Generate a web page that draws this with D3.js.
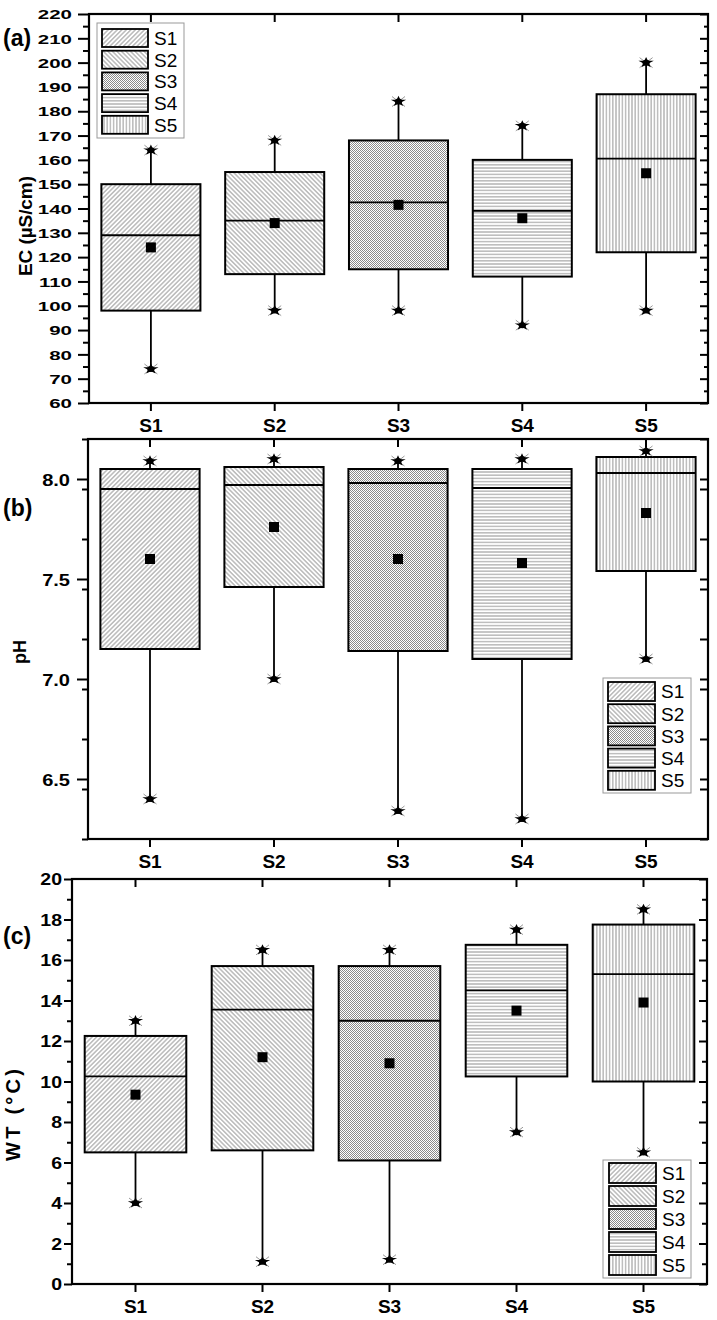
<!DOCTYPE html>
<html><head><meta charset="utf-8">
<script src="https://cdn.jsdelivr.net/npm/d3@7"></script>
<style>body{margin:0;background:#fff} svg{display:block} text{font-family:Arial,"Liberation Sans",sans-serif}</style>
</head><body><svg id="c" width="717" height="1320"></svg>
<script>
const categories = ["S1","S2","S3","S4","S5"];

const ecMax    = [164, 168, 184, 174, 200];
const ecQ3     = [150, 155, 168, 160, 187];
const ecMedian = [129, 135, 142.5, 139, 160.5];
const ecMean   = [124, 134, 141.5, 136, 154.5];
const ecQ1     = [98, 113, 115, 112, 122];
const ecMin    = [74, 98, 98, 92, 98];
const ecTicks  = [60,70,80,90,100,110,120,130,140,150,160,170,180,190,200,210,220];

const phMax    = [8.09, 8.10, 8.09, 8.10, 8.14];
const phQ3     = [8.05, 8.06, 8.05, 8.05, 8.11];
const phMedian = [7.95, 7.97, 7.98, 7.955, 8.03];
const phMean   = [7.60, 7.76, 7.60, 7.58, 7.83];
const phQ1     = [7.15, 7.46, 7.14, 7.10, 7.54];
const phMin    = [6.40, 7.00, 6.34, 6.30, 7.10];
const phTicks  = [6.5, 7.0, 7.5, 8.0];

const wtMax    = [13.0, 16.5, 16.5, 17.5, 18.5];
const wtQ3     = [12.25, 15.7, 15.7, 16.75, 17.75];
const wtMedian = [10.25, 13.55, 13.0, 14.5, 15.3];
const wtMean   = [9.35, 11.2, 10.9, 13.5, 13.9];
const wtQ1     = [6.5, 6.6, 6.1, 10.25, 10.0];
const wtMin    = [4.0, 1.1, 1.2, 7.5, 6.5];
const wtTicks  = [0,2,4,6,8,10,12,14,16,18,20];

const svg = d3.select("#c");
const defs = svg.append("defs");

function linePattern(id, angle, color){
  const p = defs.append("pattern").attr("id", id).attr("patternUnits","userSpaceOnUse")
    .attr("width", 3.2).attr("height", 3.2).attr("patternTransform", `rotate(${angle})`);
  p.append("rect").attr("width", 3.2).attr("height", 3.2).attr("fill", "#fff");
  p.append("line").attr("x1", 1.6).attr("x2", 1.6).attr("y1", -1).attr("y2", 5)
    .attr("stroke", color).attr("stroke-width", 0.9);
}
linePattern("pS1", 45, "#8c8c8c");
linePattern("pS2", -45, "#8c8c8c");
linePattern("pS4", 90, "#8c8c8c");
linePattern("pS5", 0, "#8c8c8c");
{
  const p = defs.append("pattern").attr("id","pS3").attr("patternUnits","userSpaceOnUse")
    .attr("width", 2).attr("height", 2);
  p.append("rect").attr("width",2).attr("height",2).attr("fill","#fff");
  p.append("rect").attr("x",0).attr("y",0).attr("width",1).attr("height",1).attr("fill","#8a8a8a");
  p.append("rect").attr("x",1).attr("y",1).attr("width",1).attr("height",1).attr("fill","#8a8a8a");
}
const fills = categories.map(c => `url(#p${c})`);

function drawPanel(cfg){
  const g = svg.append("g");
  const x = d3.scaleBand().domain(categories).range([cfg.x0, cfg.x1]).paddingInner(0.2).paddingOuter(0.1);
  const y = d3.scaleLinear().domain(cfg.domain).range([cfg.y1, cfg.y0]);
  const minorTicks = d3.range(cfg.domain[0], cfg.domain[1] + 1e-9, cfg.minorStep)
    .map(v => +v.toFixed(4)).filter(v => !cfg.ticks.some(t => Math.abs(t - v) < 1e-6));

  categories.forEach((c, i) => {
    const cx = x(c) + x.bandwidth()/2;
    const bw = x.bandwidth();
    g.append("line").attr("x1", cx).attr("x2", cx).attr("y1", y(cfg.q3[i])).attr("y2", y(cfg.max[i]))
      .attr("stroke","#000").attr("stroke-width",1.8);
    g.append("line").attr("x1", cx).attr("x2", cx).attr("y1", y(cfg.q1[i])).attr("y2", y(cfg.min[i]))
      .attr("stroke","#000").attr("stroke-width",1.8);
    g.append("rect").attr("x", x(c)).attr("y", y(cfg.q3[i])).attr("width", bw)
      .attr("height", y(cfg.q1[i]) - y(cfg.q3[i])).attr("fill", fills[i])
      .attr("stroke","#000").attr("stroke-width",2);
    g.append("line").attr("x1", x(c)).attr("x2", x(c)+bw).attr("y1", y(cfg.med[i])).attr("y2", y(cfg.med[i]))
      .attr("stroke","#000").attr("stroke-width",1.8);
    g.append("rect").attr("x", cx-5).attr("y", y(cfg.mean[i])-5).attr("width",10).attr("height",10).attr("fill","#000");
    [cfg.max[i], cfg.min[i]].forEach(v => {
      const m = g.append("g").attr("transform", `translate(${cx},${y(v)})`);
      m.append("path").attr("d","M-6.5,-5L6.5,5M-6.5,5L6.5,-5").attr("stroke","#999").attr("stroke-width",1);
      m.append("path").attr("d", d3.symbol(d3.symbolStar, 40)()).attr("transform","scale(1.35,0.95)").attr("fill","#000");
      m.append("ellipse").attr("rx",3.6).attr("ry",3).attr("fill","#000");
    });
  });

  const left = g.append("g").attr("transform", `translate(${cfg.x0},0)`)
    .call(d3.axisLeft(y).tickValues(cfg.ticks).tickSize(cfg.majorLen).tickPadding(cfg.labelGap));
  left.selectAll("text")
    .attr("font-size", cfg.tickFont).attr("font-weight","bold").attr("fill","#000")
    .attr("x", -(cfg.majorLen + cfg.labelGap)/cfg.sx)
    .attr("transform", `scale(${cfg.sx},${cfg.sy})`)
    .attr("dy", "0.36em");
  g.append("g").attr("transform", `translate(${cfg.x0},0)`)
    .call(d3.axisLeft(y).tickValues(minorTicks).tickSize(cfg.minorLen).tickFormat(""));
  g.append("g").attr("transform", `translate(${cfg.x1},0)`)
    .call(d3.axisRight(y).tickValues(cfg.ticks).tickSize(-8).tickFormat(""));
  g.append("g").attr("transform", `translate(${cfg.x1},0)`)
    .call(d3.axisRight(y).tickValues(minorTicks).tickSize(-cfg.rightMinorLen).tickFormat(""));
  g.append("g").attr("transform", `translate(0,${cfg.y0})`)
    .call(d3.axisTop(x).tickSize(-8).tickFormat(""));
  const bottom = g.append("g").attr("transform", `translate(0,${cfg.y1})`)
    .call(d3.axisBottom(x).tickSize(8).tickPadding(8));
  bottom.selectAll("text").attr("font-size", 19).attr("font-weight","bold").attr("fill","#000");
  g.selectAll(".domain").remove();
  g.selectAll(".tick line").attr("stroke","#000").attr("stroke-width",2);
  g.append("rect").attr("x", cfg.x0).attr("y", cfg.y0).attr("width", cfg.x1-cfg.x0).attr("height", cfg.y1-cfg.y0)
    .attr("fill","none").attr("stroke","#000").attr("stroke-width",2.2);

  const t = g.append("text").attr("transform", `translate(${cfg.titleX},${cfg.titleY}) rotate(-90)`)
    .attr("text-anchor","middle").attr("dy","0.35em").attr("font-size", cfg.titleFont).attr("font-weight","bold")
    .text(cfg.title);
  if (cfg.titleLen) t.attr("textLength", cfg.titleLen).attr("lengthAdjust","spacing");
  g.append("text").attr("x", 3).attr("y", cfg.tagY).attr("font-size", 23).attr("font-weight","bold").text(cfg.tag);

  const L = cfg.legend;
  const lg = g.append("g");
  lg.append("rect").attr("x", L.x).attr("y", L.y).attr("width", L.w).attr("height", L.h)
    .attr("fill","#fff").attr("stroke","#999").attr("stroke-width",1);
  categories.forEach((c, i) => {
    lg.append("rect").attr("x", L.sx).attr("y", L.sy + i*L.step).attr("width", L.sw).attr("height", L.sh)
      .attr("fill", fills[i]).attr("stroke","#000").attr("stroke-width",1.8);
    lg.append("text").attr("x", L.sx + L.sw + 6).attr("y", L.sy + i*L.step + L.sh/2).attr("dy","0.36em")
      .attr("font-size", 19).text(c);
  });
}

drawPanel({
  x0: 89, x1: 708, y0: 14, y1: 403, domain: [60, 220], ticks: ecTicks, minorStep: 5,
  max: ecMax, q3: ecQ3, med: ecMedian, mean: ecMean, q1: ecQ1, min: ecMin,
  majorLen: 11, minorLen: 6, rightMinorLen: 4, labelGap: 6, tickFont: 16, sx: 1.28, sy: 0.82,
  title: "EC (\u00B5S/cm)", titleX: 25, titleY: 226, titleFont: 19, titleLen: 100,
  tag: "(a)", tagY: 46,
  legend: {x: 97, y: 23, w: 87, h: 115, sx: 102, sy: 29, sw: 46, sh: 18, step: 21.7}
});
drawPanel({
  x0: 88, x1: 708, y0: 439, y1: 839, domain: [6.2, 8.2], ticks: phTicks, minorStep: 0.25,
  max: phMax, q3: phQ3, med: phMedian, mean: phMean, q1: phQ1, min: phMin,
  majorLen: 11, minorLen: 6, rightMinorLen: 8, labelGap: 7, tickFont: 17, sx: 1.18, sy: 1,
  title: "pH", titleX: 20, titleY: 652, titleFont: 18, titleLen: 0,
  tag: "(b)", tagY: 516,
  legend: {x: 603, y: 678, w: 88, h: 115, sx: 608, sy: 682, sw: 47, sh: 19, step: 22.2}
});
drawPanel({
  x0: 72, x1: 707, y0: 879, y1: 1284, domain: [0, 20], ticks: wtTicks, minorStep: 1,
  max: wtMax, q3: wtQ3, med: wtMedian, mean: wtMean, q1: wtQ1, min: wtMin,
  majorLen: 8, minorLen: 5, rightMinorLen: 5, labelGap: 2, tickFont: 16, sx: 1.22, sy: 1,
  title: "WT (\u00B0C)", titleX: 13, titleY: 1115, titleFont: 20, titleLen: 92,
  tag: "(c)", tagY: 944,
  legend: {x: 603, y: 1160, w: 88, h: 118, sx: 609, sy: 1163, sw: 47, sh: 20, step: 23}
});
</script></body></html>
